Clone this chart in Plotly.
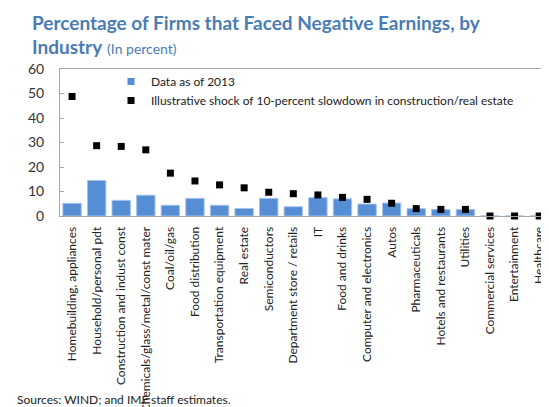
import plotly.graph_objects as go

categories = [
    "Homebuilding, appliances", "Household/personal pdt", "Construction and indust const",
    "Chemicals/glass/metal/const mater", "Coal/oil/gas", "Food distribution",
    "Transportation equipment", "Real estate", "Semiconductors", "Department store / retails",
    "IT", "Food and drinks", "Computer and electronics", "Autos", "Pharmaceuticals",
    "Hotels and restaurants", "Utilities", "Commercial services", "Entertainment", "Healthcare",
]
data_2013 = [5.2, 14.5, 6.4, 8.5, 4.4, 7.2, 4.4, 3.1, 7.2, 3.8,
             7.5, 7.0, 4.9, 5.3, 3.0, 2.7, 2.7, 0, 0, 0]
shock = [48.8, 28.7, 28.4, 27.0, 17.5, 14.3, 12.7, 11.5, 9.7, 9.1,
         8.6, 7.6, 6.8, 5.2, 3.0, 2.7, 2.7, 0, 0, 0]
y_ticks = [0, 10, 20, 30, 40, 50, 60]

FONT = "Lato"
BLUE_T = "#4A7DB4"
BAR_BLUE = "#558ED5"

# figure is placed 8px in from the page corner (body margin)
W, H = 541, 399
L, T, B = 52, 61, 191
PW, PH = W - L, H - T - B
BOT = T + PH  # figure y of plot bottom


def py(y):  # figure pixel y -> paper y
    return (BOT - y) / PH


def px(x):  # figure pixel x -> paper x
    return (x - L) / PW


fig = go.Figure()
fig.add_trace(go.Bar(
    x=categories, y=data_2013, name="Data as of 2013", showlegend=False,
    legendgroup="d", marker=dict(color=BAR_BLUE, line=dict(color="#A9C4EB", width=1)),
    width=0.75,
))
fig.add_trace(go.Scatter(
    x=[None], y=[None], mode="markers", name="Data as of 2013", legendgroup="d",
    marker=dict(symbol="square", size=7, color=BAR_BLUE),
))
fig.add_trace(go.Scatter(
    x=categories, y=shock, mode="markers",
    name="Illustrative shock of 10-percent slowdown in construction/real estate",
    marker=dict(symbol="square", size=7, color="#000000"),
    cliponaxis=False,
))

fig.update_layout(
    template="none",
    width=W, height=H,
    margin=dict(l=L, r=0, t=T, b=B, pad=0),
    paper_bgcolor="white", plot_bgcolor="white",
    font=dict(family=FONT, size=12, color="#222222"),
    showlegend=True,
    legend=dict(x=px(103), y=py(59), xanchor="left", yanchor="top",
                bgcolor="rgba(0,0,0,0)", font=dict(size=12, color="#222222"),
                itemwidth=30, tracegroupgap=0),
    xaxis=dict(
        type="category", range=[-0.49, 19.40],
        showline=True, linecolor="#A6A6A6", linewidth=1, mirror=True,
        showgrid=False, zeroline=False, ticks="", tickangle=-90,
        tickfont=dict(size=12, color="#222222"), automargin=False,
        ticklabelstandoff=5, ticklabeloverflow="allow",
    ),
    yaxis=dict(
        range=[0, 60], tickvals=y_ticks,
        showline=True, linecolor="#A6A6A6", linewidth=1,
        showgrid=False, zeroline=False,
        ticks="inside", ticklen=4, tickcolor="#A6A6A6",
        tickfont=dict(size=14, color="#333333"), automargin=False,
        ticklabelstandoff=12,
    ),
    annotations=[
        dict(text="<b>Percentage of Firms that Faced Negative Earnings, by</b>",
             xref="paper", yref="paper", x=px(22), y=py(14),
             xanchor="left", yanchor="middle", showarrow=False,
             font=dict(family=FONT, size=19, color=BLUE_T)),
        dict(text="<b>Industry</b> <span style='font-size:14px'>(In percent)</span>",
             xref="paper", yref="paper", x=px(22), y=py(38),
             xanchor="left", yanchor="middle", showarrow=False,
             font=dict(family=FONT, size=19, color=BLUE_T)),
        dict(text="Sources: WIND; and IMF staff estimates.",
             xref="paper", yref="paper", x=px(7), y=py(391),
             xanchor="left", yanchor="middle", showarrow=False,
             font=dict(family=FONT, size=12, color="#222222")),
    ],
)

fig.write_html("out.html")
